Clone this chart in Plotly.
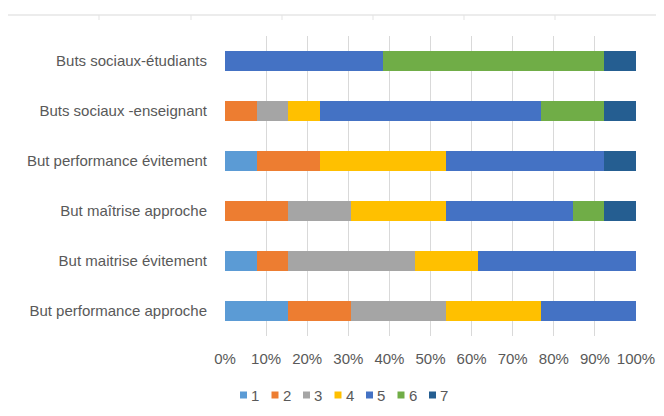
import plotly.graph_objects as go

categories = [
    "But performance approche",
    "But maitrise évitement",
    "But maîtrise approche",
    "But performance évitement",
    "Buts sociaux -enseignant",
    "Buts sociaux-étudiants",
]
series_names = ["1", "2", "3", "4", "5", "6", "7"]
# counts per category (bottom to top) for each response level
s1 = [2, 1, 0, 1, 0, 0]
s2 = [2, 1, 2, 2, 1, 0]
s3 = [3, 4, 2, 0, 1, 0]
s4 = [3, 2, 3, 4, 1, 0]
s5 = [3, 5, 4, 5, 7, 5]
s6 = [0, 0, 1, 0, 2, 7]
s7 = [0, 0, 1, 1, 1, 1]
series = [s1, s2, s3, s4, s5, s6, s7]
colors = ["#5B9BD5", "#ED7D31", "#A5A5A5", "#FFC000", "#4472C4", "#70AD47", "#255E91"]
xticks = [0, 10, 20, 30, 40, 50, 60, 70, 80, 90, 100]

totals = [sum(v[i] for v in series) for i in range(len(categories))]

# plot area in screen pixels (page has 8px body offset)
PX0, PX1, PY0, PY1 = 225, 636, 36, 336


def px(sx):
    return (sx - PX0) / (PX1 - PX0)


def py(sy):
    return (PY1 - sy) / (PY1 - PY0)


fig = go.Figure()
for name, vals, col in zip(series_names, series, colors):
    pct = [100.0 * v / t for v, t in zip(vals, totals)]
    fig.add_trace(go.Bar(
        y=categories, x=pct, name=name, orientation="h",
        marker=dict(color=col, line=dict(width=0)),
        showlegend=False,
    ))

shapes = [
    dict(type="line", xref="paper", yref="paper", x0=px(7), x1=px(700), y0=py(15), y1=py(15),
         line=dict(color="#D9D9D9", width=1)),
    dict(type="line", xref="paper", yref="paper", x0=px(7), x1=px(7), y0=py(15), y1=py(420),
         line=dict(color="#D9D9D9", width=1)),
]
for tx in [99, 191, 282, 373, 464, 555]:
    shapes.append(dict(type="line", xref="paper", yref="paper", x0=px(tx), x1=px(tx),
                       y0=py(15), y1=py(20), line=dict(color="#E3E3E3", width=1)))

annotations = []
# manual legend (small squares + labels)
for i, (name, col) in enumerate(zip(series_names, colors)):
    sx = 240 + 31.5 * i
    shapes.append(dict(type="rect", xref="paper", yref="paper",
                       x0=px(sx), x1=px(sx + 7), y0=py(398.5), y1=py(391.5),
                       fillcolor=col, line=dict(width=0)))
    annotations.append(dict(xref="paper", yref="paper", x=px(sx + 9), y=py(395.5),
                            xanchor="left", yanchor="middle", text=name, showarrow=False,
                            font=dict(size=15, color="#595959")))

fig.update_layout(
    barmode="stack",
    bargap=0.6,
    width=664, height=416,
    margin=dict(l=217, r=36, t=28, b=88, autoexpand=False),
    plot_bgcolor="white", paper_bgcolor="white",
    font=dict(family="Liberation Sans, Arial, sans-serif", size=15, color="#595959"),
    xaxis=dict(
        range=[0, 100], tickvals=xticks, ticktext=[f"{t}%" for t in xticks],
        showgrid=True, gridcolor="#D9D9D9", gridwidth=1, zeroline=False,
        showline=False, ticks="outside", ticklen=9, tickcolor="rgba(0,0,0,0)",
        fixedrange=True,
    ),
    yaxis=dict(showgrid=False, zeroline=False, showline=False,
               ticks="outside", ticklen=14, tickcolor="rgba(0,0,0,0)",
               fixedrange=True),
    showlegend=False,
    shapes=shapes,
    annotations=annotations,
)

fig.write_html("out.html")
